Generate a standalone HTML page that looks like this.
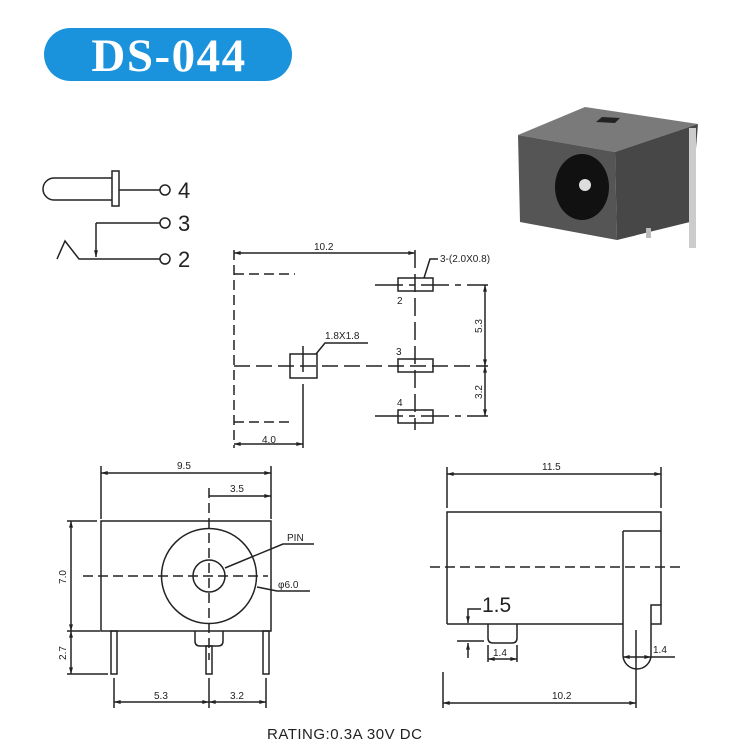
<!DOCTYPE html>
<html><head><meta charset="utf-8"><style>
html,body{margin:0;padding:0;background:#fff;}
svg{display:block;}
text{font-family:"Liberation Sans",sans-serif;fill:#222;}
</style></head><body>
<svg width="735" height="744" viewBox="0 0 735 744" xmlns="http://www.w3.org/2000/svg">
<defs>
<marker id="a" viewBox="0 0 10 6" refX="10" refY="3" markerWidth="8" markerHeight="4" orient="auto-start-reverse" markerUnits="userSpaceOnUse"><path d="M0,0 L10,3 L0,6z" fill="#222"/></marker>
</defs>
<!-- Title -->
<rect x="44" y="28" width="248" height="53" rx="26.5" fill="#1a93dc"/>
<text x="169" y="71" text-anchor="middle" font-weight="bold" font-size="47" letter-spacing="1.5" style="fill:#fff;font-family:'Liberation Serif',serif">DS-044</text>

<!-- Photo -->
<polygon points="518,135 585,107 698,124 615,152" fill="#7a7a7a"/>
<polygon points="518,135 615,152 617,240 520,222" fill="#555"/>
<polygon points="615,152 698,124 690,222 617,240" fill="#474747"/>
<polygon points="596,122 602,117 620,118 615,123" fill="#222"/>
<ellipse cx="582" cy="187" rx="27" ry="33" fill="#111"/>
<circle cx="585" cy="185" r="6" fill="#ddd"/>
<rect x="689" y="128" width="7" height="120" fill="#ccc"/>
<rect x="646" y="228" width="5" height="10" fill="#bbb"/>

<g stroke="#222" stroke-width="1.5" fill="none">
<!-- schematic -->
<path d="M112,178 H54 A11,11 0 0 0 54,200 H112"/>
<rect x="112" y="171" width="7" height="35"/>
<line x1="119" y1="190" x2="160" y2="190"/>
<circle cx="165" cy="190" r="5"/>
<line x1="96" y1="223" x2="160" y2="223"/>
<circle cx="165" cy="223" r="5"/>
<line x1="96" y1="223" x2="96" y2="257" marker-end="url(#a)"/>
<path d="M57,259 L65,241 L79,259 H160"/>
<circle cx="165" cy="259" r="5"/>

<!-- footprint -->
<line x1="234" y1="250" x2="234" y2="448" stroke-dasharray="10,5"/>
<line x1="234" y1="253" x2="415" y2="253" marker-start="url(#a)" marker-end="url(#a)"/>
<line x1="234" y1="274" x2="295" y2="274" stroke-dasharray="10,5"/>
<line x1="234" y1="422" x2="290" y2="422" stroke-dasharray="10,5"/>
<line x1="415" y1="250" x2="415" y2="430" stroke-dasharray="18,6"/>
<rect x="398" y="278" width="35" height="13"/>
<rect x="398" y="359" width="35" height="13"/>
<rect x="398" y="410" width="35" height="13"/>
<line x1="375" y1="285" x2="488" y2="285" stroke-dasharray="28,6,6,6"/>
<line x1="234" y1="366" x2="488" y2="366" stroke-dasharray="16,6"/>
<line x1="375" y1="416" x2="488" y2="416" stroke-dasharray="28,6,6,6"/>
<line x1="485" y1="285" x2="485" y2="366" marker-start="url(#a)" marker-end="url(#a)"/>
<line x1="485" y1="366" x2="485" y2="416" marker-start="url(#a)" marker-end="url(#a)"/>
<rect x="290" y="354" width="27" height="24"/>
<line x1="303" y1="346" x2="303" y2="372"/>
<line x1="303" y1="384" x2="303" y2="448"/>
<line x1="234" y1="444" x2="303" y2="444" marker-start="url(#a)" marker-end="url(#a)"/>
<path d="M316,354 L325,343 H368"/>
<path d="M424,278 L430,259 H438"/>

<!-- front view -->
<rect x="101" y="521" width="170" height="110"/>
<line x1="101" y1="466" x2="101" y2="519"/>
<line x1="271" y1="466" x2="271" y2="519"/>
<line x1="101" y1="473" x2="271" y2="473" marker-start="url(#a)" marker-end="url(#a)"/>
<line x1="209" y1="496" x2="271" y2="496" marker-end="url(#a)"/>
<line x1="209" y1="488" x2="209" y2="660" stroke-dasharray="10,5"/>
<line x1="83" y1="576" x2="268" y2="576" stroke-dasharray="10,5"/>
<circle cx="209" cy="576" r="47.5"/>
<circle cx="209" cy="576" r="16"/>
<path d="M225,568 L283,544 H314"/>
<path d="M257,587 L277,591 H310"/>
<line x1="67" y1="521" x2="97" y2="521"/>
<line x1="67" y1="631" x2="100" y2="631"/>
<line x1="67" y1="674" x2="108" y2="674"/>
<line x1="71" y1="521" x2="71" y2="631" marker-start="url(#a)" marker-end="url(#a)"/>
<line x1="71" y1="631" x2="71" y2="674" marker-start="url(#a)" marker-end="url(#a)"/>
<rect x="111" y="631" width="6" height="43"/>
<rect x="263" y="631" width="6" height="43"/>
<path d="M195,631 V641 Q195,646 200,646 H218 Q223,646 223,641 V631"/>
<rect x="206" y="646" width="6" height="28"/>
<line x1="114" y1="678" x2="114" y2="708"/>
<line x1="209" y1="678" x2="209" y2="708"/>
<line x1="266" y1="678" x2="266" y2="708"/>
<line x1="114" y1="702" x2="209" y2="702" marker-start="url(#a)" marker-end="url(#a)"/>
<line x1="209" y1="702" x2="266" y2="702" marker-start="url(#a)" marker-end="url(#a)"/>

<!-- side view -->
<path d="M447,624 V512 H661 V605"/>
<line x1="447" y1="624" x2="623" y2="624"/>
<path d="M623,531 H661 M623,531 V655 A14,14 0 0 0 651,655 V605 H661 V624 H651"/>
<line x1="447" y1="467" x2="447" y2="508"/>
<line x1="661" y1="467" x2="661" y2="508"/>
<line x1="447" y1="474" x2="661" y2="474" marker-start="url(#a)" marker-end="url(#a)"/>
<line x1="430" y1="567" x2="682" y2="567" stroke-dasharray="10,5"/>
<path d="M488,624 V638 Q488,643 493,643 H512 Q517,643 517,638 V624"/>
<path d="M481,609 H468 V623" marker-end="url(#a)"/>
<line x1="457" y1="641" x2="484" y2="641"/>
<line x1="468" y1="658" x2="468" y2="643" marker-end="url(#a)"/>
<line x1="488" y1="645" x2="488" y2="662"/>
<line x1="517" y1="645" x2="517" y2="662"/>
<line x1="488" y1="659" x2="517" y2="659" marker-start="url(#a)" marker-end="url(#a)"/>
<line x1="623" y1="657" x2="651" y2="657" marker-start="url(#a)" marker-end="url(#a)"/>
<line x1="651" y1="657" x2="675" y2="657"/>
<line x1="636" y1="630" x2="636" y2="708"/>
<line x1="443" y1="672" x2="443" y2="708"/>
<line x1="443" y1="703" x2="636" y2="703" marker-start="url(#a)" marker-end="url(#a)"/>
</g>

<g font-size="22">
<text x="178" y="198">4</text>
<text x="178" y="231">3</text>
<text x="178" y="267">2</text>
</g>
<g font-size="10">
<text x="314" y="250">10.2</text>
<text x="440" y="262">3-(2.0X0.8)</text>
<text x="325" y="339">1.8X1.8</text>
<text x="397" y="304">2</text>
<text x="396" y="355">3</text>
<text x="397" y="406">4</text>
<text x="262" y="443">4.0</text>
<text transform="translate(482,326) rotate(-90)" text-anchor="middle">5.3</text>
<text transform="translate(482,392) rotate(-90)" text-anchor="middle">3.2</text>
<text x="177" y="469">9.5</text>
<text x="230" y="492">3.5</text>
<text x="287" y="541">PIN</text>
<text x="278" y="588">φ6.0</text>
<text transform="translate(66,577) rotate(-90)" text-anchor="middle">7.0</text>
<text transform="translate(66,653) rotate(-90)" text-anchor="middle">2.7</text>
<text x="154" y="699">5.3</text>
<text x="230" y="699">3.2</text>
<text x="542" y="470">11.5</text>
<text x="493" y="656">1.4</text>
<text x="653" y="653">1.4</text>
<text x="552" y="699">10.2</text>
</g>
<text x="482" y="612" font-size="21">1.5</text>
<text x="267" y="739" font-size="15" letter-spacing="0.5">RATING:0.3A 30V DC</text>
</svg>
</body></html>
